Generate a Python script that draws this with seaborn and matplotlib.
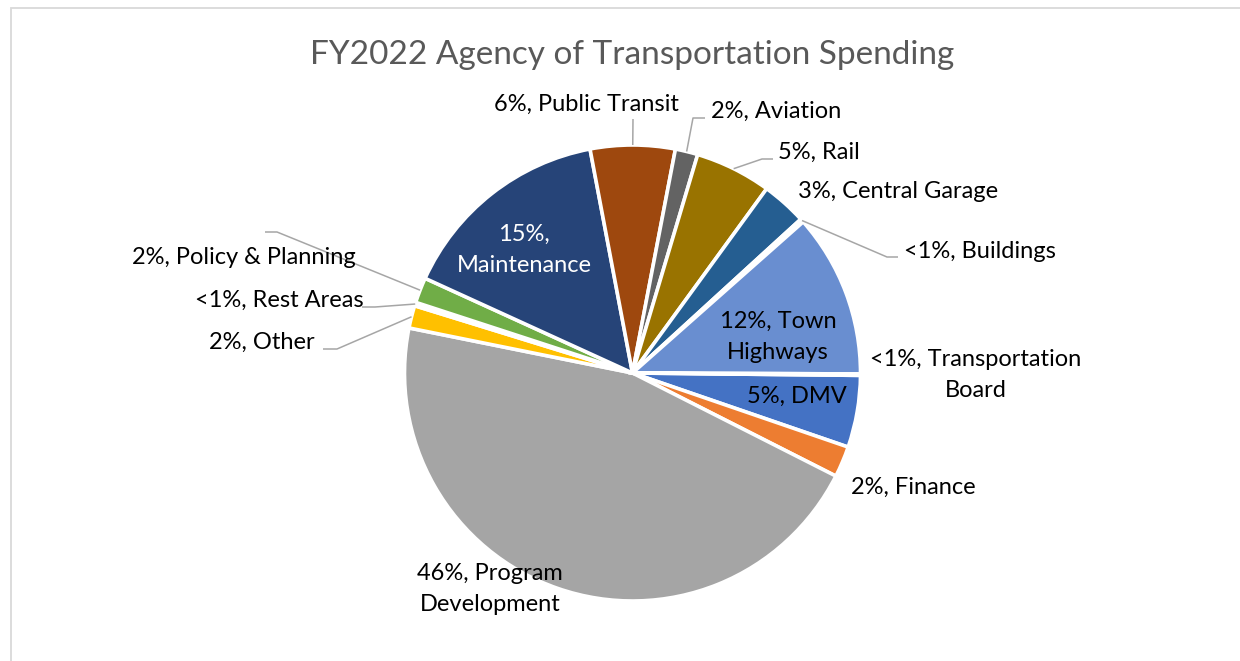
import matplotlib
matplotlib.use("Agg")
import numpy as np
import matplotlib.pyplot as plt
import seaborn as sns
from matplotlib.patches import Rectangle

# FY2022 spending shares, in series order (pie starts at 3 o'clock, clockwise)
categories = ["DMV", "Finance", "Program Development", "Other", "Rest Areas",
              "Policy & Planning", "Maintenance", "Public Transit", "Aviation",
              "Rail", "Central Garage", "Buildings", "Town Highways",
              "Transportation Board"]
values = [5.1, 2.2, 45.7, 1.6, 0.25, 1.8, 15.2, 6.0, 1.6, 5.4, 3.2, 0.25, 11.6, 0.1]
label_text = ["5%, DMV", "2%, Finance", "46%, Program\nDevelopment", "2%, Other",
              "<1%, Rest Areas", "2%, Policy & Planning", "15%,\nMaintenance",
              "6%, Public Transit", "2%, Aviation", "5%, Rail", "3%, Central Garage",
              "<1%, Buildings", "12%, Town\nHighways", "<1%, Transportation\nBoard"]
hex_colors = ["#4472C4", "#ED7D31", "#A5A5A5", "#FFC000", "#5B9BD5", "#70AD47",
              "#264478", "#9E480E", "#636363", "#997300", "#255E91", "#43682B",
              "#698ED0", "#F1975A"]

# label layout in pixels (text centre, optional leader elbow + end)
label_pos = {
    "DMV": (797, 396), "Finance": (913, 487), "Program Development": (490, 589),
    "Other": (262, 342), "Rest Areas": (279, 300), "Policy & Planning": (244, 257),
    "Maintenance": (524, 250), "Public Transit": (586, 104), "Aviation": (776, 111),
    "Rail": (819, 152), "Central Garage": (898, 191), "Buildings": (980, 251),
    "Town Highways": (778, 337), "Transportation Board": (976, 375),
}
leaders = {
    "Public Transit": [(633, 119)],
    "Aviation": [(693, 118), (705, 118)],
    "Rail": [(762, 159), (773, 159)],
    "Buildings": [(887, 257), (898, 257)],
    "Policy & Planning": [(277, 232), (265, 232)],
    "Rest Areas": [(375, 307), (362, 307)],
    "Other": [(337, 349), (323, 349)],
}
inside_white = ["Maintenance"]

sns.set_theme(style="white")
plt.rcParams['font.family'] = ['Lato', 'DejaVu Sans']

W, H = 1240, 661
CX, CY, R = 632.5, 373, 228


def px(x, y):
    return ((x - CX) / R, (CY - y) / R)


fig = plt.figure(figsize=(W / 100, H / 100), dpi=100)
fig.patch.set_facecolor("white")
ax = fig.add_axes([0, 0, 1, 1])

colors = sns.color_palette(hex_colors)
wedges, _ = ax.pie(values, colors=colors, startangle=-0.6, counterclock=False,
                   radius=1, wedgeprops=dict(edgecolor="white", linewidth=2.6))

ax.set_xlim(px(0, 0)[0], px(W, 0)[0])
ax.set_ylim(px(0, H)[1], px(0, 0)[1])
ax.set_aspect("equal")
ax.axis("off")

lead_color = "#A6A6A6"
for w, name, txt in zip(wedges, categories, label_text):
    tx, ty = px(*label_pos[name])
    col = "white" if name in inside_white else "black"
    ax.text(tx, ty, txt, ha="center", va="center", multialignment="center",
            fontsize=17, color=col, linespacing=1.58)
    if name in leaders:
        mid = np.deg2rad((w.theta1 + w.theta2) / 2)
        xs = [np.cos(mid)] + [px(*p)[0] for p in leaders[name]]
        ys = [np.sin(mid)] + [px(*p)[1] for p in leaders[name]]
        ax.plot(xs, ys, color=lead_color, lw=1.1, solid_capstyle="butt")

tx, ty = px(632, 55)
ax.text(tx, ty, "FY2022 Agency of Transportation Spending", ha="center",
        va="center", fontsize=24, color="#595959")

# chart area border (only top and left edge visible in the crop)
fig.add_artist(Rectangle((11 / W, -0.05), 1.2, 1.05 - 8.5 / H, transform=fig.transFigure,
                         fill=False, edgecolor="#D9D9D9", lw=1.3))

fig.savefig("out.png", dpi=100)
